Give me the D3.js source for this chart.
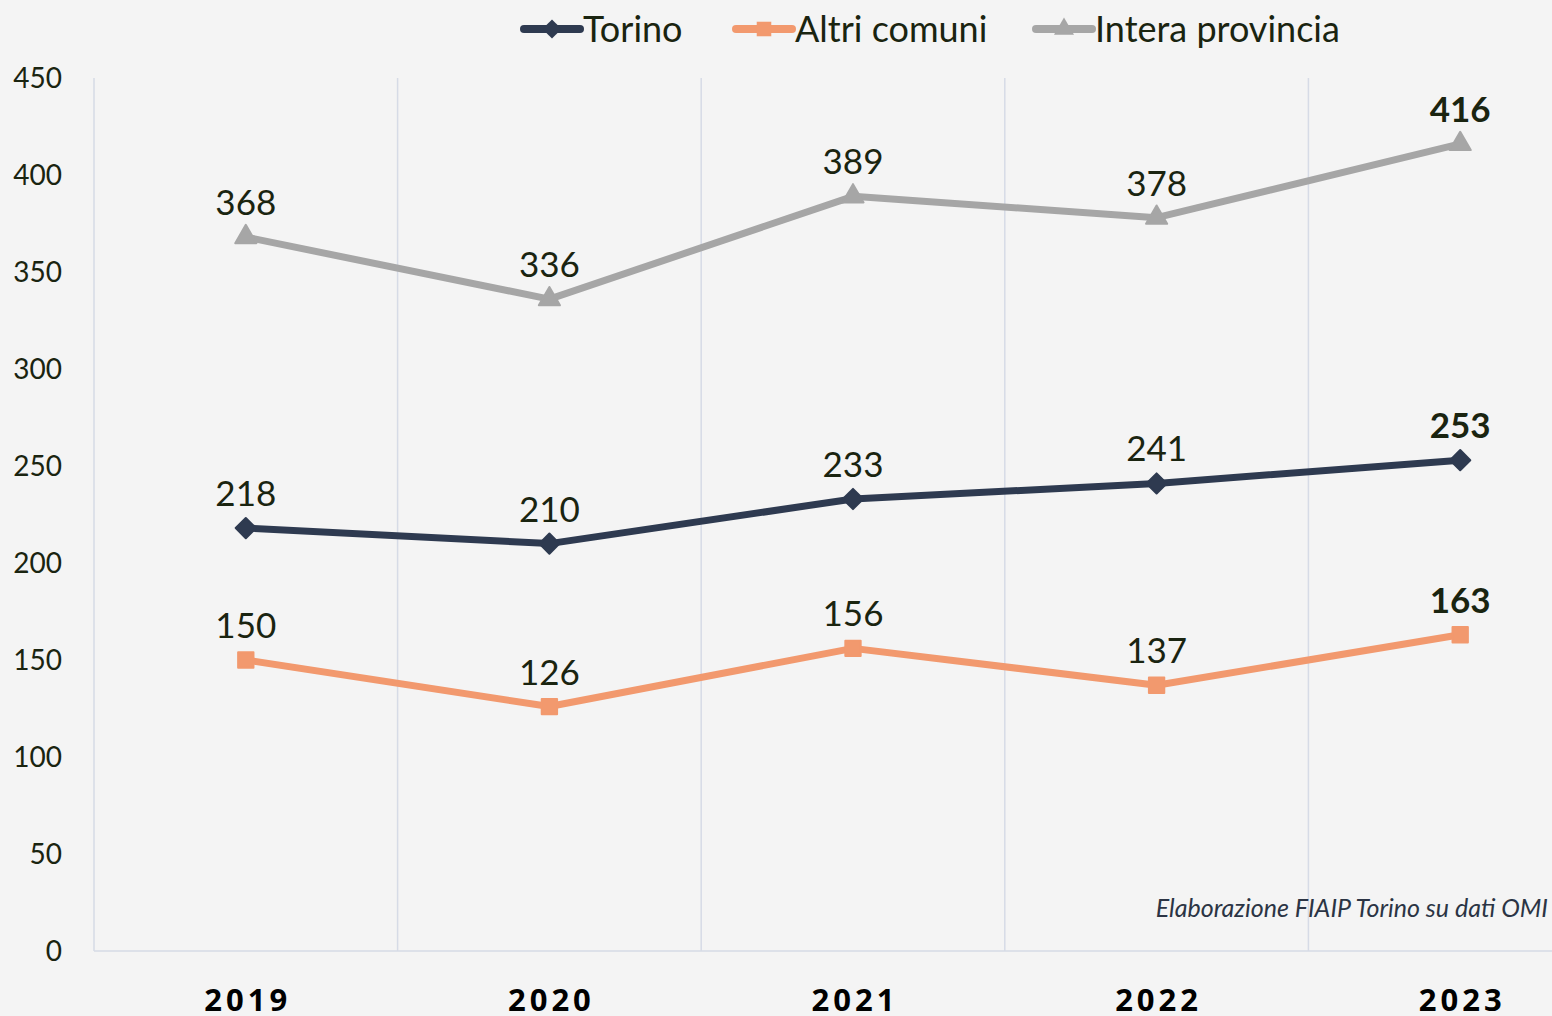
<!DOCTYPE html>
<html>
<head>
<meta charset="utf-8">
<script src="https://cdn.jsdelivr.net/npm/d3@7"></script>
<style>
  html, body { margin: 0; padding: 0; background: #f4f4f4; }
  svg { display: block; font-family: Lato, "Open Sans", sans-serif; }
  .tick-y { font-size: 28px; fill: #1a2410; }
  .tick-x { font-size: 31px; font-weight: 700; fill: #000; letter-spacing: 4px; font-family: "Open Sans", sans-serif; }
  .val { font-size: 35px; fill: #1a2410; }
  .val.last { font-weight: 700; }
  .legend text { font-size: 36px; fill: #1a2410; }
</style>
</head>
<body>
<div id="chart"></div>
<script>
// data
const years = ['2019', '2020', '2021', '2022', '2023'];
const torino = [218, 210, 233, 241, 253];
const altriComuni = [150, 126, 156, 137, 163];
const interaProvincia = [368, 336, 389, 378, 416];
const yTicks = [0, 50, 100, 150, 200, 250, 300, 350, 400, 450];

const series = [
  { name: 'Torino', values: torino, color: '#2e3a50', symbol: d3.symbolDiamond2, size: 260 },
  { name: 'Altri comuni', values: altriComuni, color: '#f2996e', symbol: d3.symbolSquare2, size: 300 },
  { name: 'Intera provincia', values: interaProvincia, color: '#a6a6a6', symbol: d3.symbolTriangle2, size: 320 }
];

const width = 1552, height = 1016;
const margin = { top: 78, left: 94, bottom: 65 };
const bandW = 303.6;

const svg = d3.select('#chart').append('svg')
  .attr('width', width)
  .attr('height', height);

svg.append('rect').attr('width', width).attr('height', height).attr('fill', '#f4f4f4');

const x = d3.scaleBand()
  .domain(years)
  .range([margin.left, margin.left + bandW * years.length]);

const y = d3.scaleLinear()
  .domain([0, 450])
  .range([height - margin.bottom, margin.top]);

const cx = (d) => x(d) + x.bandwidth() / 2;

// vertical grid lines at category boundaries
svg.append('g')
  .selectAll('line')
  .data(years)
  .enter().append('line')
  .attr('x1', (d) => x(d)).attr('x2', (d) => x(d))
  .attr('y1', y(450)).attr('y2', y(0))
  .attr('stroke', '#d6dbe6')
  .attr('stroke-width', 1.5);

// x axis line
svg.append('line')
  .attr('x1', margin.left).attr('x2', width)
  .attr('y1', y(0)).attr('y2', y(0))
  .attr('stroke', '#d6dbe6')
  .attr('stroke-width', 1.5);

// y tick labels
svg.append('g')
  .selectAll('text')
  .data(yTicks)
  .enter().append('text')
  .attr('class', 'tick-y')
  .attr('x', 62)
  .attr('y', (d) => y(d))
  .attr('dy', '0.35em')
  .attr('text-anchor', 'end')
  .text((d) => d);

// x tick labels
svg.append('g')
  .selectAll('text')
  .data(years)
  .enter().append('text')
  .attr('class', 'tick-x')
  .attr('x', (d) => cx(d) + 2)
  .attr('y', 1011)
  .attr('text-anchor', 'middle')
  .text((d) => d);

const line = d3.line()
  .x((d, i) => cx(years[i]))
  .y((d) => y(d));

series.forEach((s) => {
  const g = svg.append('g');
  g.append('path')
    .datum(s.values)
    .attr('fill', 'none')
    .attr('stroke', s.color)
    .attr('stroke-width', 7)
    .attr('stroke-linejoin', 'round')
    .attr('d', line);

  g.selectAll('.mark')
    .data(s.values)
    .enter().append('path')
    .attr('class', 'mark')
    .attr('transform', (d, i) => `translate(${cx(years[i])},${y(d)})`)
    .attr('fill', s.color)
    .attr('stroke', s.color)
    .attr('stroke-width', 2)
    .attr('stroke-linejoin', 'round')
    .attr('d', d3.symbol().type(s.symbol).size(s.size));

  g.selectAll('.val')
    .data(s.values)
    .enter().append('text')
    .attr('class', (d, i) => i === s.values.length - 1 ? 'val last' : 'val')
    .attr('x', (d, i) => cx(years[i]))
    .attr('y', (d) => y(d) - 22)
    .attr('text-anchor', 'middle')
    .text((d) => d);
});

// legend
const legendX = [524, 736, 1036];
const legend = svg.append('g').attr('class', 'legend');
series.forEach((s, i) => {
  const lg = legend.append('g').attr('transform', `translate(${legendX[i]},29)`);
  lg.append('line')
    .attr('x1', 0).attr('x2', 56)
    .attr('stroke', s.color)
    .attr('stroke-width', 8)
    .attr('stroke-linecap', 'round');
  lg.append('path')
    .attr('transform', 'translate(28,0)')
    .attr('fill', s.color)
    .attr('d', d3.symbol().type(s.symbol).size(s.size * 0.9));
  lg.append('text')
    .attr('x', 59)
    .attr('dy', '0.35em')
    .text(s.name);
});

// source note
svg.append('text')
  .attr('x', 1548)
  .attr('y', 917)
  .attr('text-anchor', 'end')
  .attr('font-size', 25)
  .attr('font-style', 'italic')
  .attr('fill', '#2b3444')
  .text('Elaborazione FIAIP Torino su dati OMI');
</script>
</body>
</html>
